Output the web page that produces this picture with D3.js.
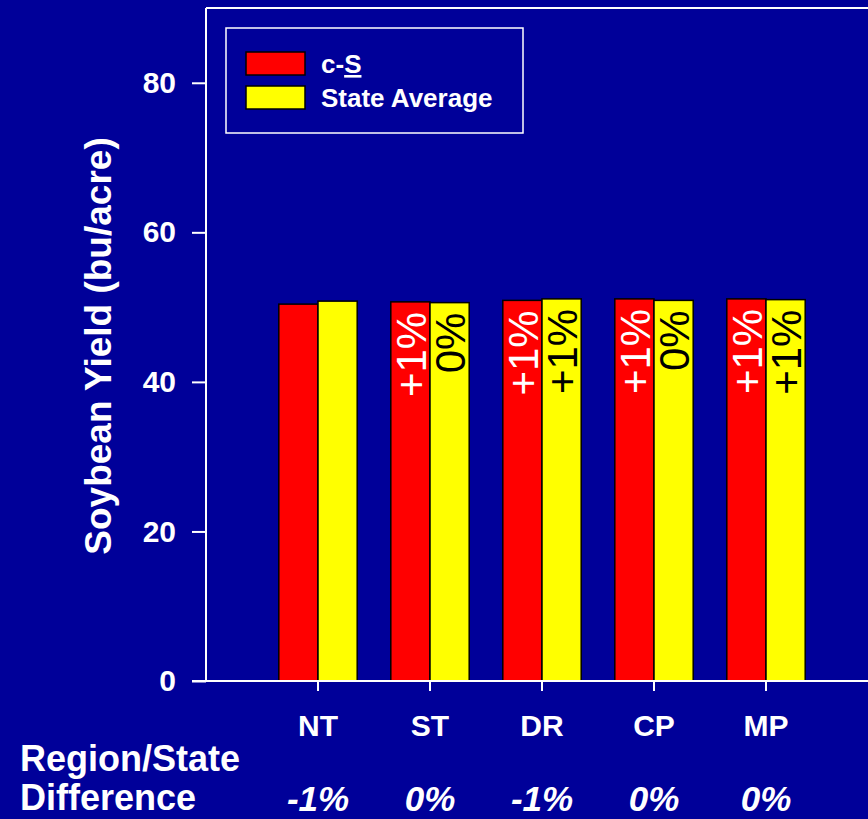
<!DOCTYPE html>
<html>
<head>
<meta charset="utf-8">
<script src="https://cdn.jsdelivr.net/npm/d3@7"></script>
<style>
  html, body { margin: 0; padding: 0; background: #000099; }
  svg { display: block; }
  text { font-family: "Liberation Sans", Arial, Helvetica, sans-serif; }
</style>
</head>
<body>
<svg id="chart" width="868" height="819"></svg>
<script>
// Soybean yield by region: c-S rotation vs. state average
const categories = ["NT", "ST", "DR", "CP", "MP"];
const seriesNames = ["c-S", "State Average"];
const cSYield = [50.4, 50.7, 50.9, 51.1, 51.1];
const stateAvgYield = [50.8, 50.6, 51.1, 50.9, 51.0];
const cSLabels = ["", "+1%", "+1%", "+1%", "+1%"];
const stateLabels = ["", "0%", "+1%", "0%", "+1%"];
const differences = ["-1%", "0%", "-1%", "0%", "0%"];
const yTicks = [0, 20, 40, 60, 80];

const W = 868, H = 819;
const plotLeft = 206, plotTop = 8, plotBottom = 681, plotRight = 868;
const colors = ["#ff0000", "#ffff00"];
const labelColors = ["#ffffff", "#000000"];

const svg = d3.select("#chart");
svg.append("rect").attr("width", W).attr("height", H).attr("fill", "#000099");

const y = d3.scaleLinear().domain([0, 90]).range([plotBottom, plotTop]);

const x = d3.scaleBand()
  .domain(categories)
  .range([plotLeft + 56, plotLeft + 56 + 112 * categories.length])
  .paddingInner(0.3)
  .paddingOuter(0.15);

const x1 = d3.scaleBand().domain(seriesNames).range([0, x.bandwidth()]);

// plot frame: top edge
svg.append("line").attr("x1", plotLeft).attr("x2", plotRight).attr("y1", plotTop).attr("y2", plotTop)
  .attr("stroke", "#ffffff").attr("stroke-width", 2);

// bars
const rows = categories.map((c, i) => ({
  cat: c,
  vals: [cSYield[i], stateAvgYield[i]],
  labels: [cSLabels[i], stateLabels[i]]
}));

const groups = svg.append("g").selectAll("g").data(rows).join("g")
  .attr("transform", d => `translate(${x(d.cat)},0)`);

groups.selectAll("rect").data(d => d.vals.map((v, k) => ({ v, k })))
  .join("rect")
  .attr("x", d => x1(seriesNames[d.k]))
  .attr("y", d => y(d.v))
  .attr("width", x1.bandwidth())
  .attr("height", d => y(0) - y(d.v))
  .attr("fill", d => colors[d.k])
  .attr("stroke", "#000000")
  .attr("stroke-width", 1.5);

// percentage labels inside bars, reading upward
groups.selectAll("text").data(d => d.vals.map((v, k) => ({ v, k, t: d.labels[k] })))
  .join("text")
  .attr("transform", d => `translate(${x1(seriesNames[d.k]) + x1.bandwidth() / 2},${y(d.v) + 10}) rotate(-90)`)
  .attr("dy", "0.36em")
  .attr("text-anchor", "end")
  .attr("font-size", 42)
  .attr("fill", d => labelColors[d.k])
  .text(d => d.t);

// y axis
const yAxis = d3.axisLeft(y).tickValues(yTicks).tickSize(14).tickPadding(16);
const gy = svg.append("g").attr("transform", `translate(${plotLeft},0)`).call(yAxis);
gy.select(".domain").attr("d", `M0,${plotTop}V${plotBottom}`).attr("stroke", "#ffffff").attr("stroke-width", 2);
gy.selectAll(".tick line").attr("stroke", "#ffffff").attr("stroke-width", 2);
gy.selectAll(".tick text").attr("fill", "#ffffff").attr("font-size", 30).attr("font-weight", "bold")
  .attr("font-family", "'Liberation Sans', Arial, sans-serif");

// x axis
const xAxis = d3.axisBottom(x).tickSize(10).tickFormat("");
const gx = svg.append("g").attr("transform", `translate(0,${plotBottom})`).call(xAxis);
gx.select(".domain").attr("d", `M${plotLeft - 14},0H${plotRight}`).attr("stroke", "#ffffff").attr("stroke-width", 2);
gx.selectAll(".tick line").attr("stroke", "#ffffff").attr("stroke-width", 2);

// category labels
svg.append("g").selectAll("text").data(categories).join("text")
  .attr("x", d => x(d) + x.bandwidth() / 2)
  .attr("y", 736)
  .attr("text-anchor", "middle")
  .attr("font-size", 30).attr("font-weight", "bold").attr("fill", "#ffffff")
  .text(d => d);

// region/state difference row
svg.append("g").selectAll("text").data(differences).join("text")
  .attr("x", (d, i) => x(categories[i]) + x.bandwidth() / 2)
  .attr("y", 811)
  .attr("text-anchor", "middle")
  .attr("font-size", 35).attr("font-weight", "bold").attr("font-style", "italic").attr("fill", "#ffffff")
  .text(d => d);

svg.append("text").attr("x", 20).attr("y", 771)
  .attr("font-size", 36).attr("font-weight", "bold").attr("fill", "#ffffff")
  .text("Region/State");
svg.append("text").attr("x", 20).attr("y", 810)
  .attr("font-size", 36).attr("font-weight", "bold").attr("fill", "#ffffff")
  .text("Difference");

// y axis title
svg.append("text")
  .attr("transform", `translate(111,${(130 + 562) / 2}) rotate(-90)`)
  .attr("text-anchor", "middle")
  .attr("font-size", 37).attr("font-weight", "bold").attr("fill", "#ffffff")
  .text("Soybean Yield (bu/acre)");

// legend
const lg = svg.append("g");
lg.append("rect").attr("x", 226).attr("y", 28).attr("width", 297).attr("height", 105)
  .attr("fill", "none").attr("stroke", "#ffffff").attr("stroke-width", 1.5);
seriesNames.forEach((name, i) => {
  lg.append("rect").attr("x", 246).attr("y", 52 + i * 34).attr("width", 59).attr("height", 23)
    .attr("fill", colors[i]).attr("stroke", "#000000").attr("stroke-width", 1.5);
});
const t0 = lg.append("text").attr("x", 321).attr("y", 73)
  .attr("font-size", 26).attr("font-weight", "bold").attr("fill", "#ffffff");
t0.append("tspan").text("c-");
t0.append("tspan").attr("text-decoration", "underline").text("S");
lg.append("text").attr("x", 321).attr("y", 107)
  .attr("font-size", 26).attr("font-weight", "bold").attr("fill", "#ffffff")
  .text(seriesNames[1]);
</script>
</body>
</html>
